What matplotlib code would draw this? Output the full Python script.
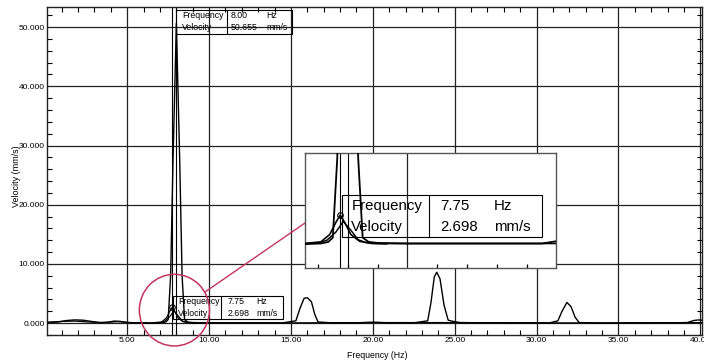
import matplotlib
matplotlib.use("Agg")
import matplotlib.pyplot as plt
from matplotlib.patches import Rectangle, Ellipse
from matplotlib.lines import Line2D
from matplotlib.ticker import MultipleLocator, FormatStrFormatter

plt.rcParams['font.family'] = ['Liberation Sans', 'DejaVu Sans']

# ---- data ----
freq_a = [0.1, 0.8, 1.3, 1.8, 2.3, 2.8, 3.3, 3.8, 4.2, 4.6, 5.0, 5.6, 6.5, 7.1, 7.35, 7.5,
          7.65, 7.8, 8.0, 8.2, 8.35, 8.5, 8.7, 9.0, 10.0, 12.0, 14.5, 15.3, 15.55, 15.8, 16.0, 16.25,
          16.45, 16.65, 17.5, 19.0, 19.8, 20.2, 21.0, 22.5, 23.35, 23.55, 23.75, 23.9, 24.1,
          24.35, 24.6, 24.9, 25.3, 27.0, 29.0, 30.8, 31.3, 31.55, 31.85, 32.1, 32.35, 32.6,
          34.0, 36.0, 38.0, 39.2, 39.6, 39.9, 40.1]
vel_a = [0.1, 0.2, 0.45, 0.55, 0.5, 0.3, 0.1, 0.15, 0.35, 0.3, 0.1, 0.05, 0.0, 0.05, 0.2, 0.6,
         8.0, 28.0, 50.655, 28.0, 8.0, 0.6, 0.2, 0.1, 0.05, 0.05, 0.05, 0.4, 2.5, 4.2, 4.3, 3.6,
         1.5, 0.2, 0.05, 0.05, 0.15, 0.15, 0.05, 0.05, 0.4, 3.5, 7.8, 8.6, 7.5,
         3.0, 0.5, 0.3, 0.1, 0.05, 0.05, 0.05, 0.4, 2.0, 3.5, 2.8, 1.0, 0.1,
         0.0, 0.05, 0.05, 0.1, 0.45, 0.55, 0.5]

freq_b = [0.1, 1.0, 1.8, 2.6, 3.5, 4.4, 5.2, 6.5, 7.1, 7.4, 7.6, 7.75, 7.9, 8.1, 8.4, 8.8,
          15.0, 20.0, 25.0, 30.0, 35.0, 40.1]
vel_b = [0.15, 0.3, 0.35, 0.2, 0.1, 0.25, 0.1, 0.05, 0.2, 0.9, 2.0, 2.698, 2.0, 0.9, 0.25, 0.05,
         0.05, 0.1, 0.1, 0.05, 0.05, 0.1]

freq_c = [6.6, 7.0, 7.3, 7.6, 7.85, 8.1, 8.35, 8.6, 8.9, 9.3]
vel_c = [0.0, 0.1, 0.35, 1.1, 2.1, 1.3, 0.4, 0.15, 0.05, 0.0]

cursor_freqs = [7.75, 8.0]
cursor_top = {"freq": "8.00", "vel": "50.655"}
cursor_low = {"freq": "7.75", "vel": "2.698"}
peak_low = (7.75, 2.698)

x_ticks = [5, 10, 15, 20, 25, 30, 35, 40]
y_ticks = [0, 10, 20, 30, 40, 50]

W, H = 704, 360
fig = plt.figure(figsize=(W / 100, H / 100), dpi=100)
ax = fig.add_axes([47 / W, 1 - 335 / H, 655 / W, 328 / H])


def draw_traces(a, lw=1.0):
    a.plot(freq_a, vel_a, color='black', lw=lw, zorder=3)
    a.plot(freq_b, vel_b, color='black', lw=lw * 0.9, zorder=3)
    a.plot(freq_c, vel_c, color='black', lw=lw * 0.8, zorder=3)
    for f in cursor_freqs:
        a.axvline(f, color='black', lw=0.8, zorder=2)
    a.plot([peak_low[0]], [peak_low[1]], marker='o', ms=4, mfc='none', mec='black',
           mew=0.8, zorder=4)


def draw_box(a, x0, x1, xdiv, y0, y1, rows, fs, tx, tv, tu):
    a.add_patch(Rectangle((x0, y0), x1 - x0, y1 - y0, fill=False, ec='black', lw=0.8, zorder=5))
    a.plot([xdiv, xdiv], [y0, y1], color='black', lw=0.8, zorder=5)
    n = len(rows)
    for i, (lab, val, unit) in enumerate(rows):
        yy = y1 - (i + 0.5) * (y1 - y0) / n
        a.text(tx, yy, lab, fontsize=fs, va='center', ha='left', zorder=6)
        a.text(tv, yy, val, fontsize=fs, va='center', ha='left', zorder=6)
        a.text(tu, yy, unit, fontsize=fs, va='center', ha='left', zorder=6)


draw_traces(ax)
ax.set_xlim(0.1, 40.1)
ax.set_ylim(-2.0, 53.4)
ax.xaxis.set_major_locator(MultipleLocator(5))
ax.xaxis.set_minor_locator(MultipleLocator(1))
ax.yaxis.set_major_locator(MultipleLocator(10))
ax.yaxis.set_minor_locator(MultipleLocator(2))
ax.xaxis.set_major_formatter(FormatStrFormatter('%.2f'))
ax.yaxis.set_major_formatter(FormatStrFormatter('%.3f'))
ax.set_xticks(x_ticks)
ax.set_yticks(y_ticks)
ax.grid(True, which='major', color='#222222', lw=0.9, zorder=1)
ax.tick_params(which='both', direction='in', top=True, right=True, labelsize=6,
               colors='black', pad=1.5)
ax.tick_params(which='major', length=0)
ax.tick_params(which='minor', length=3.5, width=0.8)
for s in ax.spines.values():
    s.set_color('#222222')
    s.set_linewidth(1.0)
ax.set_xlabel('Frequency (Hz)', fontsize=6.3)
ax.set_ylabel('Velocity (mm/s)', fontsize=6.5)
ax.xaxis.set_label_coords(0.504, -0.05)
ax.yaxis.set_label_coords(-0.04, 0.485)

rows_top = [("Frequency", cursor_top["freq"], "Hz"), ("Velocity", cursor_top["vel"], "mm/s")]
rows_low = [("Frequency", cursor_low["freq"], "Hz"), ("Velocity", cursor_low["vel"], "mm/s")]
draw_box(ax, 8.0, 15.06, 11.09, 48.9, 52.9, rows_top, 6.3, 8.34, 11.33, 13.47)
draw_box(ax, 7.8, 14.5, 10.73, 0.65, 4.55, rows_low, 6.3, 8.12, 11.1, 12.9)

# red highlight circle and connector
red = '#c4345e'
ax.add_patch(Ellipse((7.88, 2.2), 4.28, 12.1, fill=False, ec=red, lw=1.1, zorder=7,
                     clip_on=False))
fig.add_artist(Line2D([205 / W, 305 / W], [1 - 292 / H, 1 - 223 / H], color=red, lw=1.0,
                      transform=fig.transFigure, zorder=8))

# zoomed inset
axi = fig.add_axes([305 / W, 1 - 268 / H, 251 / W, 115 / H])
axi.set_facecolor('white')
draw_traces(axi, lw=1.3)
axi.set_xlim(6.57, 14.97)
axi.set_ylim(-2.23, 8.47)
axi.set_xticks([10])
axi.xaxis.set_minor_locator(MultipleLocator(1))
axi.set_yticks([])
axi.grid(True, which='major', axis='x', color='#222222', lw=0.9, zorder=1)
axi.tick_params(which='both', direction='in', labelbottom=False, labelleft=False,
                left=False)
axi.tick_params(which='major', length=0)
axi.tick_params(which='minor', length=3, width=0.9)
for s in axi.spines.values():
    s.set_color('#555555')
    s.set_linewidth(1.0)
draw_box(axi, 7.8, 14.5, 10.73, 0.65, 4.55, rows_low, 10.8, 8.12, 11.1, 12.9)
axi.set_zorder(9)

fig.savefig('out.png', dpi=100)
